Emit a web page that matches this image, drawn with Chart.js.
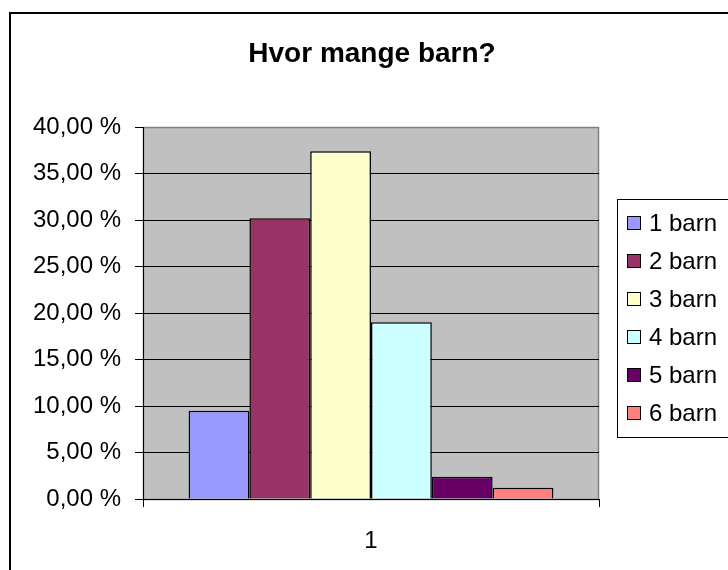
<!DOCTYPE html>
<html>
<head>
<meta charset="utf-8">
<script src="https://cdn.jsdelivr.net/npm/chart.js@4/dist/chart.umd.min.js"></script>
<style>
  body { margin: 0; background: #fff; }
  canvas { display: block; }
</style>
</head>
<body>
<canvas id="chart" width="728" height="570"></canvas>
<script>
const chartTitle = 'Hvor mange barn?'
const categories = ['1']
const seriesNames = ['1 barn', '2 barn', '3 barn', '4 barn', '5 barn', '6 barn']
const seriesValues = [9.5, 30.2, 37.4, 19.0, 2.4, 1.2]
const seriesColors = ['#9999FF', '#993366', '#FFFFCC', '#CCFFFF', '#660066', '#FF8080']
const yTicks = [0, 5, 10, 15, 20, 25, 30, 35, 40]

const FONT = '"Liberation Sans", Arial, sans-serif'

// grey plot area, outer frame, title and legend box like the old excel chart
const excelFrame = {
  id: 'excelFrame',
  beforeDraw(chart) {
    const {ctx, chartArea: a} = chart
    ctx.save()
    ctx.fillStyle = '#fff'
    ctx.fillRect(0, 0, chart.width, chart.height)
    ctx.fillStyle = '#C0C0C0'
    ctx.fillRect(a.left, a.top, a.right - a.left, a.bottom - a.top)
    ctx.strokeStyle = '#808080'
    ctx.lineWidth = 1.5
    ctx.strokeRect(a.left + 0.5, a.top + 0.5, a.right - a.left - 1, a.bottom - a.top)
    ctx.restore()
  },
  afterDraw(chart) {
    const ctx = chart.ctx
    ctx.save()
    // outer border, runs off the right and bottom edge
    ctx.strokeStyle = '#000'
    ctx.lineWidth = 2
    ctx.strokeRect(10, 13, 800, 700)

    // title
    ctx.fillStyle = '#000'
    ctx.font = 'bold 28px ' + FONT
    ctx.textAlign = 'center'
    ctx.textBaseline = 'alphabetic'
    ctx.fillText(chartTitle, 372, 62)

    // legend
    const top = 199, step = 38
    const n = chart.data.datasets.length
    ctx.lineWidth = 1
    ctx.strokeRect(617.5, top + 0.5, 200, step * (n - 1) + 48)
    ctx.font = '24px ' + FONT
    ctx.textAlign = 'left'
    ctx.textBaseline = 'middle'
    chart.data.datasets.forEach((ds, i) => {
      const y = top + 24 + step * i
      ctx.fillStyle = ds.backgroundColor
      ctx.fillRect(627.5, Math.round(y - 7) + 0.5, 13, 13)
      ctx.strokeStyle = '#000'
      ctx.strokeRect(627.5, Math.round(y - 7) + 0.5, 13, 13)
      ctx.fillStyle = '#000'
      ctx.fillText(ds.label, 649, y + 1)
    })
    ctx.restore()
  }
}

const datasets = seriesNames.map((name, i) => ({
  label: name,
  data: [seriesValues[i]],
  backgroundColor: seriesColors[i],
  borderColor: '#000',
  borderWidth: 1.5,
  barPercentage: 1.0,
  categoryPercentage: 0.8,
}))

new Chart(document.getElementById('chart'), {
  type: 'bar',
  data: { labels: categories, datasets: datasets },
  plugins: [excelFrame],
  options: {
    responsive: false,
    animation: false,
    layout: { padding: { top: 127, right: 129, bottom: 0, left: 0 } },
    plugins: {
      legend: { display: false },
      title: { display: false },
      tooltip: { enabled: false },
    },
    scales: {
      x: {
        afterFit: (s) => { s.height = 71 },
        grid: {
          offset: true,
          drawOnChartArea: false,
          drawTicks: true,
          tickLength: 8,
          color: '#000',
        },
        border: { color: '#000', width: 1 },
        ticks: {
          color: '#000',
          padding: 20,
          font: { family: FONT, size: 24 },
        },
      },
      y: {
        min: yTicks[0],
        max: yTicks[yTicks.length - 1],
        afterFit: (s) => { s.width = 143 },
        afterBuildTicks: (s) => { s.ticks = yTicks.map(v => ({ value: v })) },
        grid: {
          color: (c) => c.tick && c.tick.value === 40 ? '#808080' : '#000',
          tickColor: '#000',
          tickLength: 8,
          lineWidth: 1,
        },
        border: { color: '#000', width: 1 },
        ticks: {
          color: '#000',
          padding: 14,
          font: { family: FONT, size: 24 },
          callback: (v) => v.toFixed(2).replace('.', ',') + ' %',
        },
      },
    },
  },
})
</script>
</body>
</html>
